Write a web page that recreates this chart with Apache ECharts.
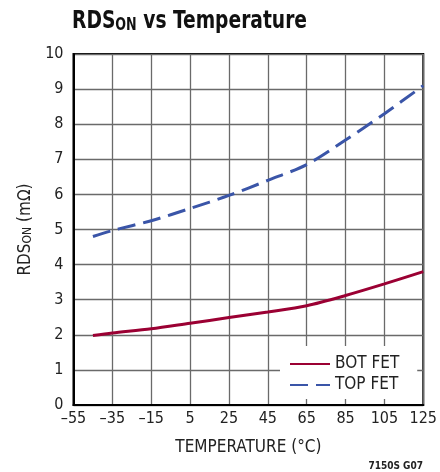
<!DOCTYPE html>
<html>
<head>
<meta charset="utf-8">
<script src="https://cdn.jsdelivr.net/npm/echarts@6/dist/echarts.min.js"></script>
<style>
  html, body { margin: 0; background: #fff; }
  #chart { width: 440px; height: 472px; }
</style>
</head>
<body>
<div id="chart"></div>
<script>
// temperature (°C) where the curves were read
const temps = [-45, -35, -15, 5, 25, 45, 65, 85, 105, 125];
// RDS(ON) in mOhm
const botFet = [1.98, 2.05, 2.17, 2.33, 2.49, 2.65, 2.83, 3.12, 3.45, 3.8];
const topFet = [4.8, 4.97, 5.25, 5.6, 5.97, 6.4, 6.85, 7.55, 8.3, 9.1];
// axis ranges
const xMin = -55;
const xMax = 125;
const xStep = 20;
const yMin = 0;
const yMax = 10;
const yStep = 1;

const font = "'DejaVu Sans Condensed', 'Liberation Sans', sans-serif";
const textColor = "#222";

// x axis runs from 0 so the ticks line up with xMin
const toPoints = (vals) => temps.map((t, i) => [t - xMin, vals[i]]);

const chart = echarts.init(document.getElementById("chart"));
chart.setOption({
  animation: false,
  grid: {
    left: 73.5,
    right: 15,
    top: 54,
    bottom: 67,
    show: true,
    borderColor: "#000",
    borderWidth: 2,
  },
  legend: {
    orient: "vertical",
    left: 280,
    top: 346,
    backgroundColor: "#fff",
    padding: [9, 18, 5, 9],
    itemWidth: 40,
    itemHeight: 14,
    itemGap: 3,
    itemTextGap: 11,
    itemStyle: { opacity: 0 }, // hide the marker drawn on the legend line
    textStyle: { fontFamily: font, fontSize: 17, lineHeight: 18, color: textColor },
    data: ["BOT FET", "TOP FET"],
  },
  xAxis: {
    type: "value",
    min: 0,
    max: xMax - xMin,
    interval: xStep,
    name: "TEMPERATURE (°C)",
    nameLocation: "middle",
    nameGap: 34,
    nameTextStyle: { fontFamily: font, fontSize: 17, color: textColor },
    axisLine: { lineStyle: { color: "#000", width: 2 } },
    axisTick: { show: false },
    axisLabel: {
      margin: 6,
      fontFamily: font,
      fontSize: 16,
      color: textColor,
      formatter: (v) => String(v + xMin).replace("-", "\u2013"),
    },
    splitLine: { lineStyle: { color: "#6a6a6a", width: 1.3 } },
  },
  yAxis: {
    type: "value",
    min: yMin,
    max: yMax,
    interval: yStep,
    name: "{a|RDS}{b|ON}{a| (mΩ)}",
    nameLocation: "middle",
    nameGap: 37,
    nameTextStyle: {
      rich: {
        a: { fontFamily: font, fontSize: 17, lineHeight: 20, color: textColor, verticalAlign: "bottom" },
        b: { fontFamily: font, fontSize: 12, lineHeight: 8, color: textColor, verticalAlign: "bottom" },
      },
    },
    axisLine: { lineStyle: { color: "#000", width: 2 } },
    axisTick: { show: false },
    axisLabel: { margin: 10, fontFamily: font, fontSize: 16, color: textColor },
    splitLine: { lineStyle: { color: "#6a6a6a", width: 1.3 } },
  },
  graphic: [
    {
      // title, squeezed to match the condensed face of the original
      type: "text",
      left: 72,
      top: 9,
      scaleX: 0.83,
      style: {
        text: "{a|RDS}{b|ON}{a| vs Temperature}",
        rich: {
          a: { fontFamily: font, fontWeight: "bold", fontSize: 25, lineHeight: 28, fill: "#111", verticalAlign: "bottom" },
          b: { fontFamily: font, fontWeight: "bold", fontSize: 17, lineHeight: 10, fill: "#111", verticalAlign: "bottom" },
        },
      },
    },
    {
      type: "text",
      right: 17,
      top: 461,
      style: { text: "7150S G07", font: "bold 10px " + font, fill: "#222" },
    },
  ],
  series: [
    {
      name: "BOT FET",
      type: "line",
      smooth: 0.3,
      symbol: "none",
      data: toPoints(botFet),
      lineStyle: { color: "#9b0033", width: 3 },
      itemStyle: { color: "#9b0033" },
    },
    {
      name: "TOP FET",
      type: "line",
      smooth: 0.3,
      symbol: "none",
      data: toPoints(topFet),
      lineStyle: { color: "#3a55a8", width: 3, type: [18, 8] },
      itemStyle: { color: "#3a55a8" },
    },
  ],
});
</script>
</body>
</html>
